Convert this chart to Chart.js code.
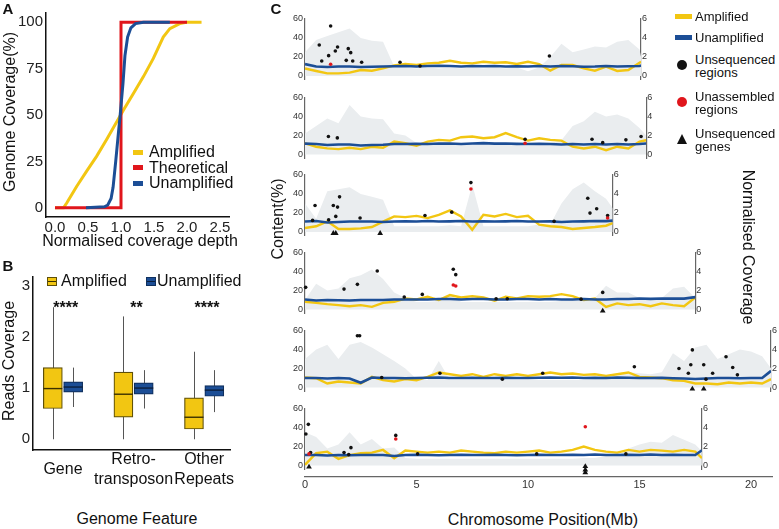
<!DOCTYPE html>
<html><head><meta charset="utf-8">
<script src="https://cdn.jsdelivr.net/npm/chart.js@4.4.1/dist/chart.umd.min.js"></script>
<style>
body{margin:0;background:#fff;}
#root{position:relative;width:779px;height:529px;overflow:hidden;font-family:'Liberation Sans',Arial,sans-serif;color:#111;background:#fff;}
.t{position:absolute;white-space:nowrap;line-height:1;}
canvas{position:absolute;}
.k{position:absolute;}
</style></head><body><div id="root"></div>
<script>
// ---------------- Panel A data ----------------
const aTicksX = [0, 0.5, 1, 1.5, 2, 2.5];
const aTicksY = [0, 25, 50, 75, 100];
const ampX = [0, 0.13, 0.18, 0.33, 0.48, 0.63, 0.78, 0.91, 1.04, 1.19, 1.34, 1.49, 1.64, 1.74, 1.89, 1.99, 2.22];
const ampY = [0, 0, 2.7, 11.6, 19.7, 27.7, 36.7, 44.7, 52.8, 61.7, 70.7, 80.5, 92, 96.6, 99.3, 100, 100];
const theoX = [0, 1, 1, 2];
const theoY = [0, 0, 100, 100];
const unampX = [0.47, 0.75, 0.8, 0.85, 0.88, 0.92, 0.96, 0.985, 1.03, 1.06, 1.1, 1.15, 1.22, 1.34, 1.74];
const unampY = [0, 0.5, 1.5, 5, 11, 25, 40, 49, 67, 82, 92, 97, 99.3, 100, 100];

// ---------------- Panel B data ----------------
const featureNames = ['Gene', ['Retro-', 'transposon'], ['Other', 'Repeats']];
const bTicksY = [0, 1, 2, 3];
const ampMin = [0, 0, 0];
const ampQ1 = [0.6, 0.43, 0.2];
const ampMed = [0.99, 0.88, 0.43];
const ampQ3 = [1.4, 1.31, 0.81];
const ampMax = [2.58, 2.4, 1.71];
const unampMin = [0.63, 0.6, 0.53];
const unampQ1 = [0.92, 0.88, 0.84];
const unampMed = [1.02, 1.0, 0.96];
const unampQ3 = [1.12, 1.1, 1.05];
const unampMax = [1.4, 1.35, 1.35];
const significance = ['****', '**', '****'];

// ---------------- Panel C data ----------------
const binSize = 0.5; // Mb between samples
const trackLengths = [15.07, 15.3, 13.8, 17.5, 20.9, 17.8];
const contentTicks = [0, 20, 40, 60];
const coverageTicks = [0, 2, 4, 6];
const positionTicks = [0, 5, 10, 15, 20];
const greyContent = [
  [25,38,42,46,50,40,37,36,10,9,8,9,8,9,8,9,8,9,8,9,5, 9,20,34,25,28,31,30,36,38,28, 20],
  [22,30,38,33,52,40,38,37,22,20,12,11,12,11,12,11,12,11,12,10,9, 10,12,15,30,35,45,40,42,38,28, 20],
  [30,14,43,45,47,40,37,34,6,6,6,6,6,7,6,50,6,6,6,6,6, 8,8,30,45,52,43,35, 25],
  [10,27,20,22,33,36,42,32,18,12,8,8,9,16,8,8,8,8,8,8,8, 8,8,9,10,10,12,25,18,18,12,10,12,22,24,12],
  [30,40,45,30,45,48,42,35,28,20,9,8,28,8,8,8,8,8,8,8,8, 8,8,8,8,8,9,10,12,16,15,14,16,36,28,42,45,30,35,40,38,33, 20],
  [35,30,18,22,35,22,28,18,19,8,7,7,7,7,7,7,7,7,7,7,7, 7,7,7,7,8,8,10,10,18,22,25,24,32,27,22, 15]
];
const amplifiedCov = [
  [0.8,0.53,0.28,0.28,0.35,0.63,0.56,0.8,1.12,1.26,1.16,1.33,1.4,1.6,1.4,1.33,1.5,1.4,1.44,1.26,1.5, 1.26,0.56,1.16,1.16,0.8,0.56,0.98,0.53,0.63,1.4, 1.5],
  [1.18,0.82,0.64,0.57,0.71,0.57,0.82,0.71,1.36,1.18,0.93,1.36,1.54,1.46,1.82,1.89,1.71,1.82,2.25,1.82,1.46, 1.71,1.54,1.46,0.82,0.64,0.82,0.46,0.82,0.64,1.36, 1.5],
  [0.42,0.6,1.12,0.31,0.31,0.38,0.52,1.1,1.64,1.57,1.7,1.46,1.8,2.27,1.64,0.24,1.8,1.64,1.9,1.57,1.7, 0.77,0.6,0.52,0.31,0.42,0.52,0.66, 0.94],
  [0.81,0.7,0.56,0.46,0.35,0.46,0.28,0.7,0.81,1.16,1.06,1.34,0.99,1.52,1.27,1.41,1.27,0.92,1.34,1.16,1.41, 1.34,1.41,1.62,1.41,0.99,1.16,0.28,0.64,0.46,0.56,0.35,0.64,0.46,0.35,1.27],
  [1.05,0.98,0.42,0.63,0.53,0.42,1.12,0.77,0.63,0.88,0.77,1.12,1.58,1.4,1.23,1.4,1.12,1.4,1.23,1.4,1.23, 1.4,1.58,1.4,1.47,1.33,1.4,1.23,1.4,1.58,1.12,1.05,0.98,0.77,0.7,0.42,0.42,0.35,0.53,0.42,0.53,0.42, 0.88],
  [0.07,1.29,1.46,0.7,1.1,1.29,1.36,1.64,0.77,1.57,1.46,1.36,1.46,1.36,1.57,1.46,1.36,1.29,1.46,1.36,1.46, 1.57,1.36,1.46,1.64,1.99,1.64,1.46,1.36,1.64,1.46,1.64,1.57,1.46,1.64,1.46, 0.77]
];
const unamplifiedCov = [
  [1.25,1.0,0.95,1.0,1.0,0.95,0.98,1.0,1.02,1.05,1.0,1.05,1.08,1.05,1.0,1.05,1.02,1.05,1.0,1.02,1.0, 1.05,1.0,1.05,1.02,0.98,1.0,1.05,1.0,1.02,1.05, 1.1],
  [1.15,1.1,1.0,1.05,1.05,0.95,1.0,1.02,1.1,1.1,1.12,1.1,1.15,1.15,1.1,1.15,1.2,1.15,1.15,1.12,1.1, 1.12,1.1,1.05,1.1,1.05,1.1,1.05,1.1,1.05,1.1, 1.15],
  [1.1,1.15,1.0,1.05,1.1,1.1,1.1,1.05,1.1,1.12,1.1,1.15,1.1,1.12,1.15,1.1,1.12,1.1,1.12,1.15,1.1, 1.1,1.12,1.05,1.1,1.12,1.15,1.15, 1.2],
  [1.05,0.95,1.0,0.98,0.95,1.0,1.0,1.0,1.05,1.05,1.05,1.05,1.1,1.1,1.05,1.1,1.1,1.05,1.05,1.1,1.1, 1.05,1.1,1.05,1.05,1.1,1.05,1.05,1.1,1.1,1.15,1.12,1.15,1.15,1.15,1.3],
  [1.0,1.0,0.95,1.0,0.95,0.5,1.05,1.0,1.0,0.98,1.0,1.02,1.05,1.0,1.0,1.02,1.0,1.0,1.02,1.0,1.0, 1.02,1.05,1.02,1.05,1.0,1.02,1.0,1.05,1.02,1.0,1.0,1.02,0.98,0.95,0.9,0.95,1.0,1.0,0.98,1.0,1.0, 1.75],
  [1.1,1.1,1.05,1.1,1.08,1.1,1.1,1.1,1.0,1.1,1.12,1.1,1.08,1.1,1.12,1.1,1.1,1.12,1.1,1.08,1.1, 1.12,1.1,1.1,1.12,1.1,1.15,1.1,1.1,1.12,1.1,1.15,1.1,1.12,1.1,1.1, 1.6]
];
// [position (Mb), content value]
const unsequencedRegions = [
  [[0.64,32.6],[0.75,15.8],[1.06,21.4],[1.15,52.6],[1.36,26.3],[1.46,30.5],[1.85,16.5],[1.94,28.8],[2.05,24.6],[2.14,15.8],[2.54,14.4],[4.26,14.4],[5.16,10.5],[10.96,21]],
  [[1.05,18.9],[1.45,17.5],[9.87,16.1],[12.87,16.1],[13.35,12.5],[14.39,15.4],[15.07,18.9]],
  [[0.34,12.2],[0.45,27.9],[1.06,12.9],[1.27,27.9],[1.38,16.4],[1.46,26.2],[1.55,37],[2.47,14.7],[5.38,17.4],[6.58,20.9],[7.44,52],[11.17,11.2],[12.68,35.6],[12.78,19.9],[13.08,24.4],[13.57,17.4]],
  [[0.03,23.3],[1.75,21.5],[2.35,26.5],[3.24,40.6],[4.45,13.1],[5.26,15.9],[6.65,42.4],[6.76,36.7],[8.57,11.3],[9.07,11.3],[12.38,10.9],[13.35,18]],
  [[2.35,54.4],[2.45,54.4],[3.44,10.5],[6.05,15],[8.85,8.8],[10.66,15],[14.77,21.8],[16.77,20],[17.19,15],[17.3,23.9],[17.37,39.6],[17.88,23.9],[17.98,8.8],[18.28,15],[18.88,32.3],[19.18,21],[19.39,13.3]],
  [[0.04,33.1],[0.15,43.3],[0.25,13.6],[1.75,13.6],[1.96,11.5],[2.06,18.8],[4.07,31.7],[5.05,12.2],[10.39,12.2],[14.39,12.2]]
];
const unassembledRegions = [
  [[1.15,12.3]],
  [[9.87,11.8]],
  [[7.44,45.3],[13.57,14.7]],
  [[6.65,25.8],[6.76,24.7]],
  [],
  [[0.18,12.2],[4.07,27.9],[12.57,40.8]]
];
// [position (Mb), stacking level below the axis]
const unsequencedGenes = [
  [],
  [],
  [[1.27,-1.3],[1.38,-1.3],[3.37,-1.3]],
  [[13.35,-1.5]],
  [[17.37,-1.5],[17.88,-1.5]],
  [[0.18,-1.5],[12.57,-1],[12.57,-4.5],[12.57,-7.5]]
];

// ---------------- styling / layout ----------------
const YELLOW = '#f2c612', BLUE = '#1c4e96', RED = '#e0161c', GREY_FILL = '#eaedef';
Chart.defaults.font.family = "'Liberation Sans', Arial, sans-serif";
Chart.defaults.color = '#222';
const root = document.getElementById('root');
const common = {responsive:false, animation:false, devicePixelRatio:1, events:[],
  plugins:{legend:{display:false}, tooltip:{enabled:false}}};

function makeCanvas(left, top, w, h) {
  const c = document.createElement('canvas');
  c.width = w; c.height = h;
  c.style.left = left + 'px'; c.style.top = top + 'px';
  c.style.width = w + 'px'; c.style.height = h + 'px';
  root.appendChild(c);
  return c;
}
function text(str, cx, cy, o) {
  o = o || {};
  const d = document.createElement('div');
  d.className = 't';
  d.textContent = str;
  d.style.left = cx + 'px'; d.style.top = cy + 'px';
  d.style.fontSize = (o.size || 16) + 'px';
  if (o.bold) d.style.fontWeight = 'bold';
  let tf = o.left ? 'translate(0,-50%)' : 'translate(-50%,-50%)';
  if (o.rot) tf += ' rotate(' + o.rot + 'deg)';
  d.style.transform = tf;
  root.appendChild(d);
}
function keyBox(left, top, w, h, css) {
  const d = document.createElement('div');
  d.className = 'k';
  d.style.cssText = `left:${left}px;top:${top}px;width:${w}px;height:${h}px;` + css;
  root.appendChild(d);
}
const zip = (xs, ys) => xs.map((x, i) => ({x, y: ys[i]}));
const fixTicks = arr => (s => { s.ticks = arr.map(v => ({value: v})); });

// ---------------- Panel A ----------------
new Chart(makeCanvas(0, 0, 240, 260), {
  type: 'line',
  data: {datasets: [
    {data: zip(unampX, unampY), borderColor: BLUE, borderWidth: 3, order: 0},
    {data: zip(theoX, theoY), borderColor: RED, borderWidth: 3, order: 1},
    {data: zip(ampX, ampY), borderColor: YELLOW, borderWidth: 3, order: 2}
  ]},
  options: Object.assign({}, common, {
    layout: {padding: {top: 13, right: 11, left: 0, bottom: 0}},
    elements: {point: {radius: 0}, line: {tension: 0, borderJoinStyle: 'miter'}},
    scales: {
      x: {type: 'linear', min: -0.136, max: 2.636, afterFit: s => { s.height = 43; },
        afterBuildTicks: fixTicks(aTicksX),
        ticks: {callback: v => v.toFixed(1), font: {size: 15}, color: '#222', padding: 2, maxRotation: 0, autoSkip: false},
        grid: {display: false, drawTicks: false}, border: {color: '#111', width: 1.5}},
      y: {type: 'linear', min: -5, max: 105, afterFit: s => { s.width = 46; },
        afterBuildTicks: fixTicks(aTicksY),
        ticks: {font: {size: 15}, color: '#222', padding: 3, autoSkip: false},
        grid: {display: false, drawTicks: false}, border: {color: '#111', width: 1.5}}
    }
  })
});

// ---------------- Panel B ----------------
const DODGE = 0.144;
const boxPlugin = {
  id: 'boxStats',
  beforeDatasetsDraw(chart) {
    const {ctx, scales: {x, y}} = chart;
    ctx.save(); ctx.strokeStyle = '#555'; ctx.lineWidth = 1;
    featureNames.forEach((_, i) => {
      [[ampMin, ampMax, -DODGE], [unampMin, unampMax, DODGE]].forEach(([lo, hi, d]) => {
        const px = Math.round(x.getPixelForValue(i + d)) + 0.5;
        ctx.beginPath();
        ctx.moveTo(px, y.getPixelForValue(lo[i]));
        ctx.lineTo(px, y.getPixelForValue(hi[i]));
        ctx.stroke();
      });
    });
    ctx.restore();
  },
  afterDatasetsDraw(chart) {
    const {ctx, scales: {x, y}} = chart;
    ctx.save();
    [[0, ampMed, '#3a3000'], [1, unampMed, '#0c1f3d']].forEach(([ds, med, col]) => {
      chart.getDatasetMeta(ds).data.forEach((el, i) => {
        const py = y.getPixelForValue(med[i]);
        ctx.strokeStyle = col; ctx.lineWidth = 1.4;
        ctx.beginPath(); ctx.moveTo(el.x - el.width / 2, py); ctx.lineTo(el.x + el.width / 2, py); ctx.stroke();
      });
    });
    ctx.fillStyle = '#111'; ctx.font = "bold 16px 'Liberation Sans', Arial, sans-serif";
    ctx.textAlign = 'center'; ctx.textBaseline = 'alphabetic';
    significance.forEach((s, i) => {
      ctx.fillText(s, x.getPixelForValue(i + 0.04), y.getPixelForValue(2.47));
    });
    ctx.restore();
  }
};
new Chart(makeCanvas(0, 265, 245, 235), {
  type: 'bar',
  data: {datasets: [
    {data: featureNames.map((_, i) => ({x: i - DODGE, y: [ampQ1[i], ampQ3[i]]})), backgroundColor: YELLOW, borderColor: '#5e4f08', borderWidth: 1.2, borderSkipped: false, barThickness: 19, grouped: false},
    {data: featureNames.map((_, i) => ({x: i + DODGE, y: [unampQ1[i], unampQ3[i]]})), backgroundColor: BLUE, borderColor: '#10305e', borderWidth: 1.2, borderSkipped: false, barThickness: 19, grouped: false}
  ]},
  options: Object.assign({}, common, {
    layout: {padding: {top: 8, right: 8, left: 0, bottom: 0}},
    scales: {
      x: {type: 'linear', offset: false, min: -0.425, max: 2.37, afterFit: s => { s.height = 50; },
        afterBuildTicks: fixTicks([0, 1, 2]),
        ticks: {callback: v => featureNames[Math.round(v)], font: {size: 16, lineHeight: 1.2}, color: '#111', padding: 10, crossAlign: 'center', maxRotation: 0, autoSkip: false},
        grid: {display: false, drawTicks: false, offset: false}, border: {color: '#111', width: 1.5}},
      y: {type: 'linear', min: -0.21, max: 3.17, afterFit: s => { s.width = 33; },
        afterBuildTicks: fixTicks(bTicksY),
        ticks: {font: {size: 15}, color: '#222', padding: 3, autoSkip: false},
        grid: {display: false, drawTicks: false}, border: {color: '#111', width: 1.5}}
    }
  }),
  plugins: [boxPlugin]
});

// ---------------- Panel C ----------------
const X0 = 305, PX_PER_MB = 22.3, TRACK_H = 57;
const trackTopPx = [19, 97.5, 175, 252.5, 330.5, 408.5];
const binned = (vals, L) => vals.map((v, j) => ({x: Math.min(j * binSize, L), y: v}));
const pairs = arr => arr.map(p => ({x: p[0], y: p[1]}));

trackLengths.forEach((L, i) => {
  const leftW = 30, rightW = 22, padTop = 8;
  const ppu = TRACK_H / 60;
  const areaTop = trackTopPx[i];
  const areaH = TRACK_H + 4 * ppu;
  const canvasTop = Math.floor(areaTop - padTop);
  const pTop = areaTop - canvasTop;
  const canvasH = Math.ceil(pTop + areaH + 10);
  const pBottom = canvasH - pTop - areaH;
  const areaW = L * PX_PER_MB;
  const canvasW = Math.ceil(leftW + areaW + rightW);
  const pRight = canvasW - leftW - areaW - rightW;
  const axisCommon = {grid: {display: false, drawTicks: false}, border: {color: '#666', width: 1.2}};
  new Chart(makeCanvas(X0 - leftW, canvasTop, canvasW, canvasH), {
    type: 'line',
    data: {datasets: [
      {data: pairs(unsequencedGenes[i]), showLine: false, pointStyle: 'triangle', pointRadius: 3.3, pointBackgroundColor: '#111', pointBorderColor: '#111', pointBorderWidth: 0, yAxisID: 'y', clip: false, order: 0},
      {data: pairs(unassembledRegions[i]), showLine: false, pointRadius: 1.8, pointBackgroundColor: RED, pointBorderWidth: 0, yAxisID: 'y', clip: false, order: 0},
      {data: pairs(unsequencedRegions[i]), showLine: false, pointRadius: 1.8, pointBackgroundColor: '#111', pointBorderWidth: 0, yAxisID: 'y', clip: false, order: 0},
      {data: binned(unamplifiedCov[i], L), borderColor: BLUE, borderWidth: 2.6, pointRadius: 0, yAxisID: 'y2', order: 1},
      {data: binned(amplifiedCov[i], L), borderColor: YELLOW, borderWidth: 2.4, pointRadius: 0, yAxisID: 'y2', order: 2},
      {data: binned(greyContent[i], L), borderColor: 'rgba(0,0,0,0)', borderWidth: 0, backgroundColor: GREY_FILL, fill: 'origin', pointRadius: 0, yAxisID: 'y', order: 3}
    ]},
    options: Object.assign({}, common, {
      layout: {padding: {top: pTop, bottom: pBottom, left: 0, right: pRight}},
      elements: {line: {tension: 0}},
      scales: {
        x: {type: 'linear', display: false, min: 0, max: L},
        y: Object.assign({position: 'left', min: -4, max: 60, afterFit: s => { s.width = leftW; },
          afterBuildTicks: fixTicks(contentTicks),
          ticks: {font: {size: 9}, color: '#333', padding: 2, autoSkip: false}}, axisCommon),
        y2: Object.assign({position: 'right', min: -0.4, max: 6, afterFit: s => { s.width = rightW; },
          afterBuildTicks: fixTicks(coverageTicks),
          ticks: {font: {size: 9}, color: '#333', padding: 1, autoSkip: false}}, axisCommon)
      }
    })
  });
});

// bottom position axis
(function () {
  const leftW = 30, axisMax = 20.95;
  const areaW = axisMax * PX_PER_MB;
  const w = Math.ceil(leftW + areaW + 8);
  new Chart(makeCanvas(X0 - leftW, 468, w, 29), {
    type: 'line',
    data: {datasets: []},
    options: Object.assign({}, common, {
      layout: {padding: {top: 8, bottom: 0, left: leftW, right: w - leftW - areaW}},
      scales: {
        x: {type: 'linear', min: 0, max: axisMax, afterFit: s => { s.height = 20; },
          afterBuildTicks: fixTicks(positionTicks),
          ticks: {font: {size: 11}, color: '#333', padding: 1, maxRotation: 0, autoSkip: false},
          grid: {display: false, drawTicks: false}, border: {color: '#666', width: 1.2}},
        y: {display: false, min: 0, max: 1}
      }
    })
  });
})();

// ---------------- text & legends ----------------
text('A', 8, 8, {size: 15, bold: true});
text('B', 8, 265, {size: 15, bold: true});
text('C', 276, 8, {size: 15, bold: true});

text('Genome Coverage(%)', 10, 112, {rot: -90});
text('Normalised coverage depth', 140, 241);
keyBox(133, 149.5, 10, 5, 'background:' + YELLOW);
keyBox(133, 165, 10, 5, 'background:' + RED);
keyBox(133, 180.5, 10, 5, 'background:' + BLUE);
text('Amplified', 149, 152, {left: true});
text('Theoretical', 149, 167.5, {left: true});
text('Unamplified', 149, 183, {left: true});

text('Reads Coverage', 9, 361, {rot: -90});
text('Genome Feature', 137, 519);
keyBox(47, 277, 8, 7, `border:1px solid #5e4f08;background:linear-gradient(to bottom, ${YELLOW} 0 40%, #3a3000 40% 60%, ${YELLOW} 60% 100%)`);
keyBox(146, 277, 8, 7, `border:1px solid #10305e;background:linear-gradient(to bottom, ${BLUE} 0 40%, #0c1f3d 40% 60%, ${BLUE} 60% 100%)`);
text('Amplified', 61, 281, {left: true});
text('Unamplified', 157, 281, {left: true});

text('Content(%)', 278, 219, {rot: -90});
text('Normalised Coverage', 748, 247, {rot: 90});
text('Chromosome Position(Mb)', 543, 520);

keyBox(675, 13.5, 17, 5, 'background:' + YELLOW);
keyBox(675, 34.5, 17, 5, 'background:' + BLUE);
keyBox(677, 60, 10, 10, 'background:#111;border-radius:50%');
keyBox(677, 97, 10, 10, 'background:' + RED + ';border-radius:50%');
keyBox(676.5, 134, 0, 0, 'border-left:5.5px solid transparent;border-right:5.5px solid transparent;border-bottom:10px solid #111');
text('Amplified', 695, 16, {left: true, size: 13});
text('Unamplified', 695, 37, {left: true, size: 13});
text('Unsequenced', 695, 59, {left: true, size: 13});
text('regions', 695, 72, {left: true, size: 13});
text('Unassembled', 695, 96, {left: true, size: 13});
text('regions', 695, 109, {left: true, size: 13});
text('Unsequenced', 695, 133, {left: true, size: 13});
text('genes', 695, 146, {left: true, size: 13});
</script></body></html>
